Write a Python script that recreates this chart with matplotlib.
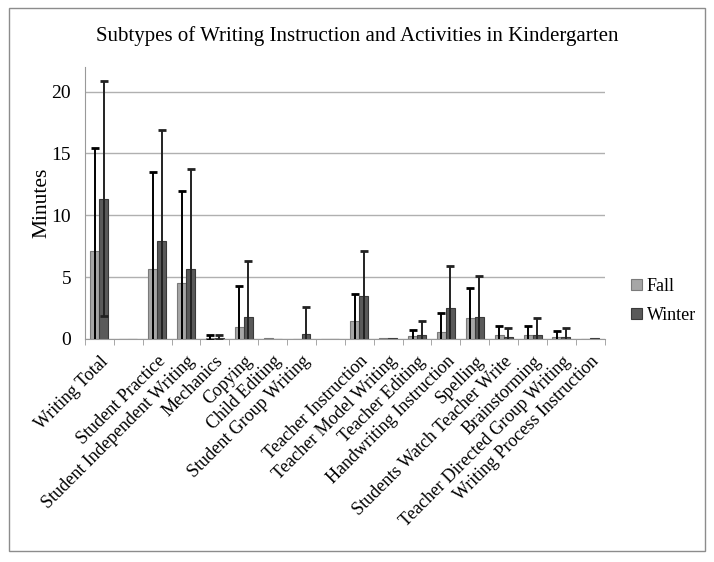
import numpy as np
import matplotlib
matplotlib.use('Agg')
import matplotlib.pyplot as plt
from matplotlib.patches import Rectangle

plt.rcParams['font.family'] = ['Liberation Serif', 'DejaVu Serif']

categories = ['Writing Total', '', 'Student Practice', 'Student Independent Writing',
              'Mechanics', 'Copying', 'Child Editing', 'Student Group Writing', '',
              'Teacher Instruction', 'Teacher Model Writing', 'Teacher Editing',
              'Handwriting Instruction', 'Spelling', 'Students Watch Teacher Write',
              'Brainstorming', 'Teacher Directed Group Writing', 'Writing Process Instruction']

fall = [7.1, 0, 5.65, 4.55, 0.1, 1.0, 0.05, 0, 0,
        1.45, 0.1, 0.2, 0.55, 1.7, 0.35, 0.3, 0.15, 0]
fall_err = [8.3, 0, 7.85, 7.4, 0.2, 3.3, 0, 0, 0,
            2.15, 0, 0.55, 1.55, 2.4, 0.7, 0.75, 0.5, 0]
winter = [11.35, 0, 7.9, 5.65, 0.1, 1.75, 0, 0.4, 0,
          3.45, 0.05, 0.3, 2.5, 1.75, 0.15, 0.3, 0.15, 0.1]
winter_err = [9.5, 0, 9.0, 8.1, 0.2, 4.55, 0, 2.2, 0,
              3.65, 0, 1.15, 3.4, 3.35, 0.7, 1.4, 0.7, 0]

x = np.arange(len(categories))
w = 0.31

fig = plt.figure(figsize=(7.14, 5.62), dpi=100)
ax = fig.add_axes([0.119, 0.397, 0.728, 0.484])

fe = np.where(np.array(fall_err) > 0, fall_err, np.nan)
we = np.where(np.array(winter_err) > 0, winter_err, np.nan)
ax.bar(x - w/2, fall, w, color='#a6a6a6', edgecolor='#7a7a7a', linewidth=0.8,
       label='Fall', zorder=2)
ax.bar(x + w/2, winter, w, color='#5a5a5a', edgecolor='#3a3a3a', linewidth=0.8,
       label='Winter', zorder=2)
ax.errorbar(x - w/2, fall, yerr=fe, fmt='none', ecolor='black', elinewidth=1.4,
            capsize=3, capthick=2, zorder=3)
ax.errorbar(x + w/2, winter, yerr=we, fmt='none', ecolor='#222222', elinewidth=1.4,
            capsize=3, capthick=2, zorder=3)

ax.set_xlim(-0.5, len(categories) - 0.5)
ax.set_ylim(0, 22)
ax.set_yticks([0, 5, 10, 15, 20])
ax.yaxis.grid(True, color='#b0b0b0', linewidth=1)
ax.set_axisbelow(True)
ax.tick_params(axis='y', length=0, labelsize=14, pad=10)

ax.set_xticks(x)
ax.set_xticklabels(categories, rotation=45, ha='right', rotation_mode='anchor', fontsize=13)
ax.tick_params(axis='x', which='major', length=0, pad=10)
ax.set_xticks(np.arange(len(categories) + 1) - 0.5, minor=True)
ax.tick_params(axis='x', which='minor', length=4, color='#999999', direction='out')

for s in ['top', 'right']:
    ax.spines[s].set_visible(False)
for s in ['left', 'bottom']:
    ax.spines[s].set_color('#999999')

ax.set_ylabel('Minutes', fontsize=15.5, labelpad=0)
fig.text(0.5, 0.936, 'Subtypes of Writing Instruction and Activities in Kindergarten',
         ha='center', va='center', fontsize=15)

ax.legend(loc='center left', bbox_to_anchor=(1.02, 0.14), frameon=False,
          fontsize=13, handlelength=0.6, handleheight=0.6, handletextpad=0.25,
          labelspacing=0.65)

fig.patches.append(Rectangle((0.012, 0.02), 0.976, 0.965, transform=fig.transFigure,
                             fill=False, edgecolor='#8c8c8c', linewidth=1))

fig.savefig('out.png', dpi=100)
